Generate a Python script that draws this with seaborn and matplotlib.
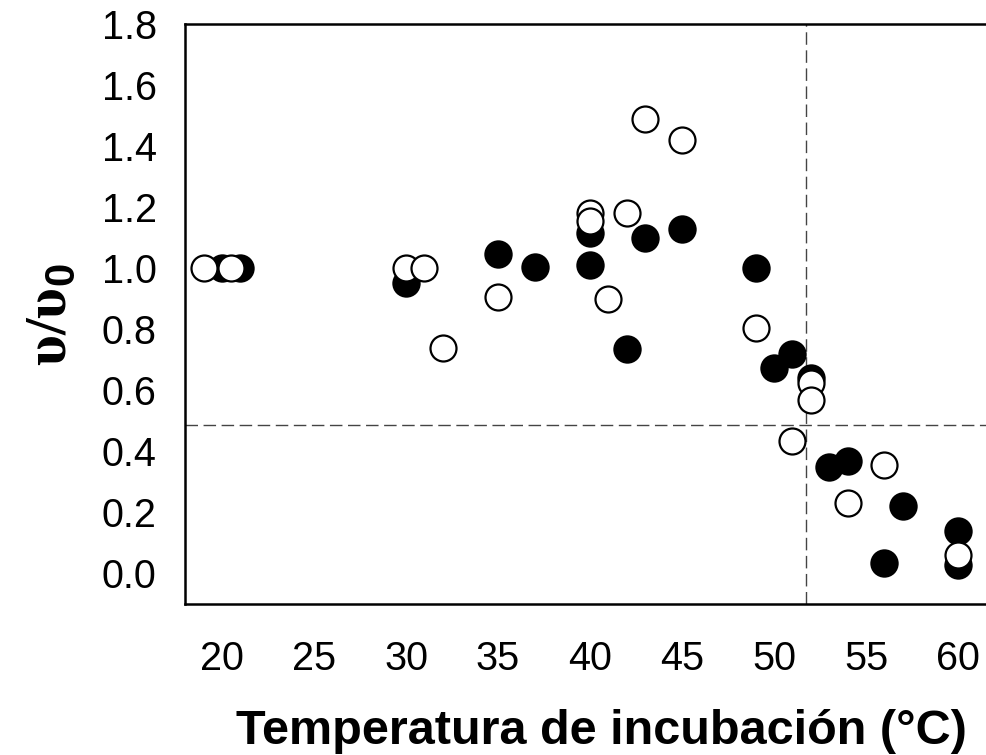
import matplotlib
matplotlib.use("Agg")
import matplotlib.pyplot as plt
import seaborn as sns
import pandas as pd

sns.set_theme(style="white")
plt.rcParams['font.family'] = ['Liberation Sans', 'DejaVu Sans']
plt.rcParams['mathtext.fontset'] = 'custom'
plt.rcParams['mathtext.rm'] = 'Liberation Sans'
plt.rcParams['mathtext.bf'] = 'Liberation Sans:bold'
plt.rcParams['text.color'] = 'black'
plt.rcParams['axes.labelcolor'] = 'black'

# Filled circles (series 1)
filled_x = [20, 21, 30, 35, 37, 40, 40, 42, 43, 45, 49, 50, 51, 52, 53, 54, 56, 57, 60, 60]
filled_y = [1.00, 1.00, 0.95, 1.045, 1.005, 1.115, 1.01, 0.735, 1.10, 1.13, 1.00, 0.672, 0.72, 0.64, 0.35, 0.37, 0.033, 0.22, 0.14, 0.027]

# Open circles (series 2)
open_x = [19, 20.5, 30, 31, 32, 35, 40, 40, 41, 42, 43, 45, 49, 51, 52, 52, 54, 56, 60]
open_y = [1.00, 1.00, 1.00, 1.00, 0.74, 0.907, 1.18, 1.155, 0.90, 1.18, 1.49, 1.42, 0.805, 0.433, 0.625, 0.567, 0.23, 0.355, 0.06]

x_ticks = [20, 25, 30, 35, 40, 45, 50, 55, 60]
y_ticks = [0.0, 0.2, 0.4, 0.6, 0.8, 1.0, 1.2, 1.4, 1.6, 1.8]
ref_x = 51.75
ref_y = 0.485

df_f = pd.DataFrame({"x": filled_x, "y": filled_y})
df_o = pd.DataFrame({"x": open_x, "y": open_y})

W, H = 986, 755
fig = plt.figure(figsize=(W / 100, H / 100), dpi=100)
ax = fig.add_axes([185.2 / W, 1 - 604 / H, 809.6 / W, 580 / H])

ax.axhline(ref_y, color='#444444', lw=1.0, dashes=(9, 4), zorder=1)
ax.axvline(ref_x, color='#444444', lw=1.0, dashes=(9, 4), zorder=1)

sns.scatterplot(data=df_f, x="x", y="y", ax=ax, color='black', edgecolor='black',
                s=370, linewidth=1.2, zorder=3, legend=False)
sns.scatterplot(data=df_o, x="x", y="y", ax=ax, color='white', edgecolor='black',
                s=350, linewidth=1.6, zorder=4, legend=False)

ax.set_xlim(18, 62)
ax.set_ylim(-0.1, 1.8)
ax.set_xticks(x_ticks)
ax.set_yticks(y_ticks)
ax.set_xticklabels([str(v) for v in x_ticks])
ax.set_yticklabels([f"{v:.1f}" for v in y_ticks])

for side in ['left', 'bottom', 'top', 'right']:
    ax.spines[side].set_color('black')
    ax.spines[side].set_linewidth(1.8)

ax.tick_params(axis='both', which='major', direction='out', width=1.5,
               labelsize=28.5, colors='black', labelcolor='black')
ax.tick_params(axis='x', length=6, pad=20)
ax.tick_params(axis='y', length=4.5, pad=16)

ax.set_xlabel("Temperatura de incubación (°C)", fontsize=35, fontweight='bold', color='black')
ax.xaxis.set_label_coords((601 - 185.2) / 809.6, -(744 - 604) / 580, transform=ax.transAxes)
ax.xaxis.label.set_va('baseline')

ax.set_ylabel(r"υ/υ$_\mathbf{0}$", fontsize=43, fontweight='bold', color='black',
              family=['Liberation Serif', 'DejaVu Serif'])
ax.yaxis.set_label_coords(-(185.2 - 52) / 809.6, (604 - 315) / 580, transform=ax.transAxes)
ax.yaxis.label.set_va('center')

fig.savefig("out.png", dpi=100)
